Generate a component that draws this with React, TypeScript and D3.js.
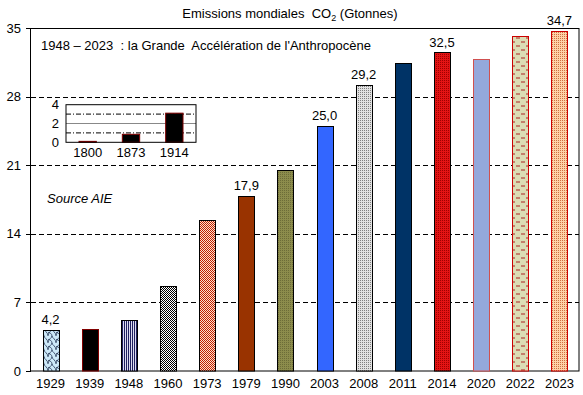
import React from "react";
import * as d3 from "d3";

const years = ["1929", "1939", "1948", "1960", "1973", "1979", "1990", "2003", "2008", "2011", "2014", "2020", "2022", "2023"];
const emissions = [4.2, 4.3, 5.2, 8.7, 15.4, 17.9, 20.5, 25.0, 29.2, 31.4, 32.5, 31.8, 34.2, 34.7];
const labelled = ["1929", "1979", "2003", "2008", "2014", "2023"];
const fills = ["url(#p1929)", "#000000", "url(#p1948)", "url(#p1960)", "url(#p1973)", "#993300", "url(#p1990)", "#3366ff", "url(#p2008)", "#003366", "url(#p2014)", "#94a8dc", "url(#p2022)", "url(#p2023)"];
const strokes = ["#000", "#800000", "#000", "#000", "#000", "#000", "#000", "#000", "#000", "#000", "#000", "#d05050", "#cc0000", "#cc0000"];
const yTicks = [0, 7, 14, 21, 28, 35];

const insetYears = ["1800", "1873", "1914"];
const insetValues = [0.1, 0.85, 3.1];
const insetTicks = [0, 2, 4];

const font = "'Liberation Sans', Arial, sans-serif";

export default function App() {
  const left = 31, right = 579, top = 28, bottom = 371;
  const x = d3.scaleBand().domain(years).range([left, right]).paddingInner(0.59).paddingOuter(0.295);
  const y = d3.scaleLinear().domain([0, 35]).range([bottom, top]);

  const ix = d3.scaleBand().domain(insetYears).range([66, 196]).paddingInner(0.6).paddingOuter(0.3);
  const iy = d3.scaleLinear().domain([0, 4]).range([142.3, 104.7]);

  const fmt = (v: number) => v.toFixed(1).replace(".", ",");

  return (
    <svg width={583} height={395} style={{ position: "absolute", left: 0, top: 0, background: "#fff", whiteSpace: "pre" }} fontFamily={font}>
      <defs>
        <pattern id="p1929" width="8" height="7" patternUnits="userSpaceOnUse">
          <rect width="8" height="7" fill="#cde9f8" />
          <path d="M0,7 C0,3 4,2 4,0 M8,7 C8,3 4,2 4,0 M0,3.5 C2,3.5 4,5 4,7" fill="none" stroke="#203050" strokeWidth="0.8" />
        </pattern>
        <pattern id="p1948" width="2" height="2" patternUnits="userSpaceOnUse">
          <rect width="2" height="2" fill="#dcdcf0" />
          <rect width="1" height="2" fill="#202060" />
        </pattern>
        <pattern id="p1960" width="2" height="2" patternUnits="userSpaceOnUse">
          <rect width="2" height="2" fill="#ffffff" />
          <rect width="1" height="1" fill="#000" />
          <rect x="1" y="1" width="1" height="1" fill="#000" />
        </pattern>
        <pattern id="p1973" width="2" height="2" patternUnits="userSpaceOnUse">
          <rect width="2" height="2" fill="#ffe0cc" />
          <rect width="1" height="1" fill="#c02000" />
          <rect x="1" y="1" width="1" height="1" fill="#c02000" />
        </pattern>
        <pattern id="p1990" width="2" height="2" patternUnits="userSpaceOnUse">
          <rect width="2" height="2" fill="#8c8c4c" />
          <rect width="1" height="1" fill="#6c6c38" />
        </pattern>
        <pattern id="p2008" width="2" height="2" patternUnits="userSpaceOnUse">
          <rect width="2" height="2" fill="#e2e2e2" />
          <rect width="1" height="1" fill="#808080" />
        </pattern>
        <pattern id="p2014" width="2" height="2" patternUnits="userSpaceOnUse">
          <rect width="2" height="2" fill="#e41414" />
          <rect width="1" height="1" fill="#a00000" />
        </pattern>
        <pattern id="p2022" width="10" height="8" patternUnits="userSpaceOnUse">
          <rect width="10" height="8" fill="#dcdcb4" />
          <line x1="1" y1="2" x2="5" y2="2" stroke="#aa2222" strokeWidth="1" />
          <line x1="6" y1="6" x2="10" y2="6" stroke="#aa2222" strokeWidth="1" />
        </pattern>
        <pattern id="p2023" width="2" height="2" patternUnits="userSpaceOnUse">
          <rect width="2" height="2" fill="#ffd2a8" />
          <rect width="1" height="1" fill="#d07040" />
        </pattern>
      </defs>

      {/* title */}
      <text x={290} y={18} textAnchor="middle" fontSize={13} fill="#000" xmlSpace="preserve">
        Emissions mondiales  CO<tspan fontSize={9} dy={3}>2</tspan><tspan dy={-3}> (Gtonnes)</tspan>
      </text>

      {/* gridlines */}
      {yTicks.filter(t => t > 0 && t < 35).map(t => (
        <line key={t} x1={left} x2={right} y1={Math.round(y(t)) + 0.5} y2={Math.round(y(t)) + 0.5} stroke="#000" strokeDasharray="5,3" />
      ))}

      {/* frame */}
      <rect x={left - 0.5} y={top + 0.5} width={right - left + 0.5} height={bottom - top - 0.5} fill="none" stroke="#000" />

      {/* y axis ticks */}
      {yTicks.map(t => (
        <g key={t}>
          <line x1={26} x2={left} y1={Math.round(y(t)) + 0.5} y2={Math.round(y(t)) + 0.5} stroke="#000" />
          <text x={21} y={y(t) + 4.5} textAnchor="end" fontSize={13}>{t}</text>
        </g>
      ))}

      {/* bars */}
      {years.map((yr, i) => (
        <rect key={yr} x={Math.round(x(yr)!) + 0.5} y={Math.round(y(emissions[i])) + 0.5} width={Math.round(x.bandwidth())}
          height={bottom - Math.round(y(emissions[i])) - 0.5} fill={fills[i]} stroke={strokes[i]} />
      ))}

      {/* value labels */}
      {years.map((yr, i) => labelled.includes(yr) ? (
        <text key={yr} x={x(yr)! + x.bandwidth() / 2} y={y(emissions[i]) - 6} textAnchor="middle" fontSize={13}>{fmt(emissions[i])}</text>
      ) : null)}

      {/* x labels */}
      {years.map(yr => (
        <text key={yr} x={x(yr)! + x.bandwidth() / 2} y={388} textAnchor="middle" fontSize={13}>{yr}</text>
      ))}

      {/* annotations */}
      <text x={41} y={50} fontSize={13} xmlSpace="preserve">{"1948 – 2023  : la Grande  Accélération de l'Anthropocène"}</text>
      <text x={47} y={203} fontSize={13} fontStyle="italic">Source AIE</text>

      {/* inset */}
      <rect x={66} y={iy(4)} width={130} height={iy(0) - iy(4)} fill="#fff" />
      <line x1={66} x2={196} y1={iy(2)} y2={iy(2)} stroke="#888" />
      {[1, 3].map(t => (
        <line key={t} x1={66} x2={196} y1={iy(t)} y2={iy(t)} stroke="#000" strokeDasharray="5,2,1,2" />
      ))}
      {insetYears.map((yr, i) => (
        <rect key={yr} x={ix(yr)!} y={iy(insetValues[i])} width={ix.bandwidth()} height={iy(0) - iy(insetValues[i])} fill="#000" stroke="#800000" />
      ))}
      <rect x={66} y={iy(4)} width={130} height={iy(0) - iy(4)} fill="none" stroke="#000" />
      {insetTicks.map(t => (
        <text key={t} x={59} y={iy(t) + 4.5} textAnchor="end" fontSize={13}>{t}</text>
      ))}
      {insetYears.map(yr => (
        <text key={yr} x={ix(yr)! + ix.bandwidth() / 2} y={157} textAnchor="middle" fontSize={13}>{yr}</text>
      ))}
    </svg>
  );
}
